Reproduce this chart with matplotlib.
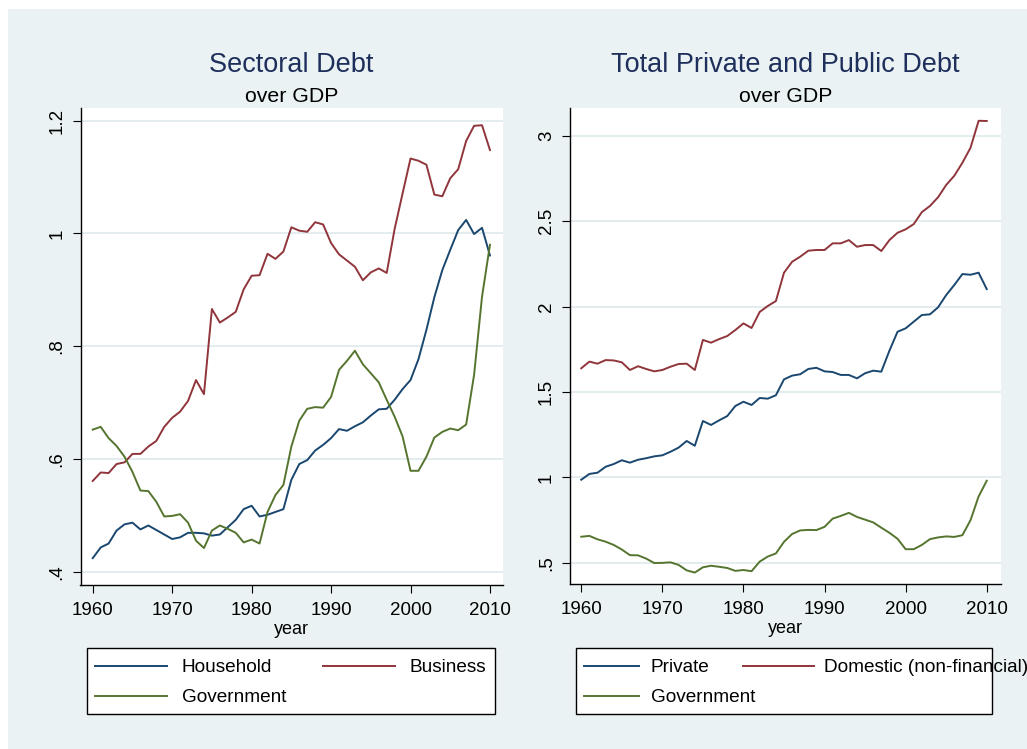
import numpy as np
import matplotlib.pyplot as plt
from matplotlib.patches import Rectangle
from matplotlib.lines import Line2D

plt.rcParams['font.family'] = ['Liberation Sans', 'DejaVu Sans']

# data (ratio to GDP)
years = list(range(1960, 2011))
household = [0.424, 0.443, 0.450, 0.473, 0.484, 0.487, 0.475, 0.482, 0.474, 0.466,
             0.458, 0.461, 0.469, 0.469, 0.468, 0.464, 0.466, 0.479, 0.492, 0.511,
             0.517, 0.498, 0.501, 0.506, 0.511, 0.563, 0.591, 0.598, 0.615, 0.625,
             0.637, 0.653, 0.650, 0.658, 0.665, 0.677, 0.688, 0.689, 0.705, 0.724,
             0.740, 0.777, 0.829, 0.887, 0.935, 0.971, 1.006, 1.024, 0.999, 1.010,
             0.961]
business = [0.561, 0.576, 0.575, 0.591, 0.594, 0.609, 0.609, 0.622, 0.632, 0.657,
            0.673, 0.684, 0.703, 0.740, 0.715, 0.866, 0.842, 0.851, 0.861, 0.901,
            0.925, 0.926, 0.964, 0.955, 0.968, 1.011, 1.005, 1.003, 1.020, 1.016,
            0.983, 0.963, 0.952, 0.941, 0.917, 0.931, 0.938, 0.930, 1.008, 1.071,
            1.133, 1.129, 1.122, 1.069, 1.066, 1.098, 1.114, 1.164, 1.191, 1.192,
            1.148]
government = [0.652, 0.657, 0.637, 0.623, 0.604, 0.577, 0.544, 0.543, 0.524, 0.498,
              0.499, 0.502, 0.487, 0.455, 0.442, 0.473, 0.482, 0.476, 0.469, 0.452,
              0.457, 0.450, 0.506, 0.536, 0.554, 0.622, 0.668, 0.689, 0.692, 0.691,
              0.710, 0.758, 0.774, 0.792, 0.768, 0.752, 0.736, 0.705, 0.675, 0.640,
              0.579, 0.579, 0.604, 0.638, 0.648, 0.654, 0.651, 0.661, 0.749, 0.888,
              0.980]
private = [0.986, 1.020, 1.027, 1.062, 1.078, 1.100, 1.086, 1.103, 1.112, 1.123,
           1.129, 1.150, 1.174, 1.213, 1.185, 1.330, 1.307, 1.334, 1.359, 1.418,
           1.443, 1.424, 1.465, 1.461, 1.481, 1.574, 1.596, 1.604, 1.635, 1.642,
           1.621, 1.617, 1.600, 1.600, 1.580, 1.610, 1.625, 1.619, 1.742, 1.853,
           1.873, 1.912, 1.951, 1.955, 1.996, 2.068, 2.127, 2.191, 2.187, 2.199,
           2.103]
domestic = [1.639, 1.678, 1.666, 1.687, 1.685, 1.674, 1.629, 1.651, 1.635, 1.621,
            1.629, 1.648, 1.664, 1.666, 1.629, 1.805, 1.789, 1.810, 1.828, 1.863,
            1.902, 1.875, 1.969, 2.004, 2.033, 2.199, 2.263, 2.293, 2.328, 2.332,
            2.332, 2.371, 2.371, 2.390, 2.351, 2.361, 2.361, 2.326, 2.390, 2.433,
            2.453, 2.484, 2.554, 2.590, 2.641, 2.713, 2.767, 2.843, 2.931, 3.089,
            3.088]

xticks = [1960, 1970, 1980, 1990, 2000, 2010]
left_yticks = [0.4, 0.6, 0.8, 1.0, 1.2]
left_ylabels = ['.4', '.6', '.8', '1', '1.2']
right_yticks = [0.5, 1.0, 1.5, 2.0, 2.5, 3.0]
right_ylabels = ['.5', '1', '1.5', '2', '2.5', '3']

left_names = ['Household', 'Business', 'Government']
right_names = ['Private', 'Domestic (non-financial)', 'Government']

navy = '#1A476F'
maroon = '#90353B'
green = '#55752F'
bg = '#EAF2F3'
gridc = '#E3ECEF'
titlec = '#1F2F5C'

W, H = 1027, 749
fig = plt.figure(figsize=(W / 100, H / 100), dpi=100, facecolor='white')
fig.patches.append(Rectangle((8 / W, 0), 1 - 8 / W, 1 - 9 / H, transform=fig.transFigure,
                             facecolor=bg, edgecolor='none', zorder=-10))


def px(x0, y0, x1, y1):
    # pixel box (top-left origin) -> figure fraction rect
    return [x0 / W, 1 - y1 / H, (x1 - x0) / W, (y1 - y0) / H]


def setup(ax, yticks, ylabels, xlim, ylim):
    ax.set_facecolor('white')
    for s in ['top', 'right']:
        ax.spines[s].set_visible(False)
    for s in ['left', 'bottom']:
        ax.spines[s].set_color('black')
        ax.spines[s].set_linewidth(1.0)
    ax.set_xlim(*xlim)
    ax.set_ylim(*ylim)
    ax.set_xticks(xticks)
    ax.set_yticks(yticks, ylabels, rotation=90, va='center')
    ax.grid(axis='y', color=gridc, lw=1.4)
    ax.set_axisbelow(True)
    ax.tick_params(length=5.8, width=0.8, labelsize=13.5, pad=5)
    ax.tick_params(axis='x', pad=6.5)
    ax.set_xlabel('year', fontsize=13, labelpad=1.5)


ax1 = fig.add_axes(px(80.5, 108, 503, 584.5))
setup(ax1, left_yticks, left_ylabels, (1958.46, 2011.64), (0.3773, 1.2226))
ax1.plot(years, household, color=navy, lw=1.4)
ax1.plot(years, business, color=maroon, lw=1.4)
ax1.plot(years, government, color=green, lw=1.4)

ax2 = fig.add_axes(px(570, 108, 1001, 583.5))
setup(ax2, right_yticks, right_ylabels, (1958.61, 2011.76), (0.378, 3.164))
ax2.plot(years, private, color=navy, lw=1.4)
ax2.plot(years, domestic, color=maroon, lw=1.4)
ax2.plot(years, government, color=green, lw=1.4)

# titles
fig.text(291.5 / W, 1 - 72 / H, 'Sectoral Debt', ha='center', va='baseline',
         fontsize=19.5, color=titlec)
fig.text(291.5 / W, 1 - 101.7 / H, 'over GDP', ha='center', va='baseline',
         fontsize=15.3, color='black')
fig.text(785.5 / W, 1 - 72 / H, 'Total Private and Public Debt', ha='center',
         va='baseline', fontsize=19.5, color=titlec)
fig.text(785.5 / W, 1 - 101.7 / H, 'over GDP', ha='center', va='baseline',
         fontsize=15.3, color='black')


# legends drawn by hand so the long label can run past the box like the original
def legend(box, entries):
    x0, y0, x1, y1 = box
    fig.patches.append(Rectangle((x0 / W, 1 - y1 / H), (x1 - x0) / W, (y1 - y0) / H,
                                 transform=fig.transFigure, facecolor='white',
                                 edgecolor='black', lw=1.0))
    for (lx0, lx1, tx, ty), name, col in entries:
        fig.add_artist(Line2D([lx0 / W, lx1 / W], [1 - ty / H, 1 - ty / H],
                              transform=fig.transFigure, color=col, lw=1.4))
        fig.text(tx / W, 1 - (ty + 6.5) / H, name, ha='left', va='baseline',
                 fontsize=13.7)


legend((87.3, 647.7, 495, 714.3),
       [((95, 166.7, 181.7, 666), left_names[0], navy),
        ((323.3, 395, 409.3, 666), left_names[1], maroon),
        ((95, 166.7, 181.7, 696), left_names[2], green)])
legend((576, 647.7, 992.3, 714.3),
       [((584, 638.5, 650.6, 666), right_names[0], navy),
        ((742.7, 814, 824.5, 666), right_names[1], maroon),
        ((584, 638.5, 650.6, 696), right_names[2], green)])

fig.savefig('out.png', dpi=100, facecolor=fig.get_facecolor())
